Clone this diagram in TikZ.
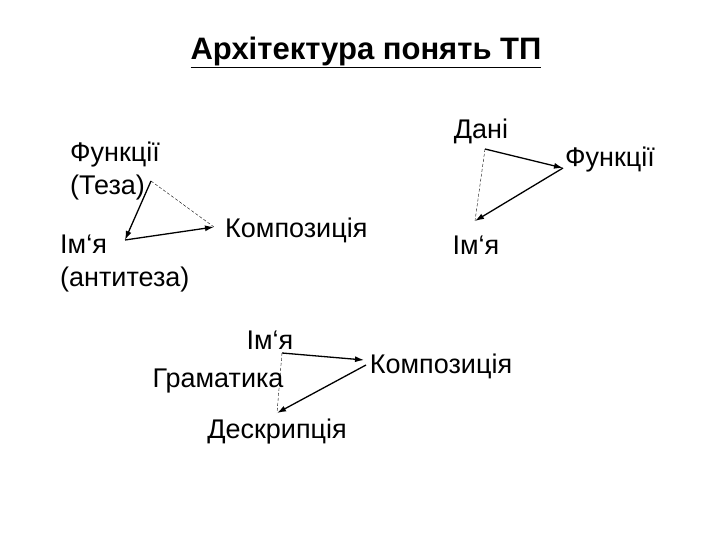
\documentclass[tikz,border=0pt]{standalone}
\usepackage{fontspec}
\setmainfont{Liberation Sans}[Ligatures=NoCommon]
\usetikzlibrary{arrows.meta}
\newcommand{\bq}{\char"60\relax}
\begin{document}
\begin{tikzpicture}[x=1pt,y=-1pt,
 lbl/.style={font=\fontsize{27}{33}\selectfont,inner sep=0pt},
 arr/.style={line width=1.3pt,-{Latex[length=9pt,width=6pt]}},
 dsh/.style={densely dashed,thin}]
\useasboundingbox (0,0) rectangle (720,540);
\node[font=\fontsize{31}{36}\selectfont\bfseries,inner sep=0pt] (t) at (366,52) {\underline{Архітектура понять ТП}};
\node[lbl,align=left,anchor=west] (f1) at (70,171) {Функції\\(Теза)};
\node[lbl,align=left,anchor=west] (i1) at (60,264) {Ім\bq я\\(антитеза)};
\node[lbl,anchor=west] (k1) at (225,230) {Композиція};
\node[lbl] (d2) at (481,131) {Дані};
\node[lbl,anchor=east] (f2) at (655,160) {Функції};
\node[lbl] (i2) at (476,245) {Ім\bq я};
\node[lbl] (i3) at (270,340) {Ім\bq я};
\node[lbl] (g3) at (218,381) {Граматика};
\node[lbl] (k3) at (441,366) {Композиція};
\node[lbl] (d3) at (277,432) {Дескрипція};
\coordinate (a1) at (151,181); \coordinate (b1) at (125,240); \coordinate (c1) at (214,227);
\draw[arr] (a1) -- (b1); \draw[arr] (b1) -- (c1); \draw[dsh] (a1) -- (c1);
\coordinate (a2) at (485,149); \coordinate (b2) at (563,168); \coordinate (c2) at (475,221);
\draw[arr] (a2) -- (b2); \draw[arr] (b2) -- (c2); \draw[dsh] (a2) -- (c2);
\coordinate (a3) at (282,353); \coordinate (b3) at (364,360); \coordinate (b3x) at (366,365); \coordinate (c3) at (277,413);
\draw[arr] (a3) -- (b3); \draw[arr] (b3x) -- (c3); \draw[dsh] (a3) -- (c3);
\end{tikzpicture}
\end{document}
